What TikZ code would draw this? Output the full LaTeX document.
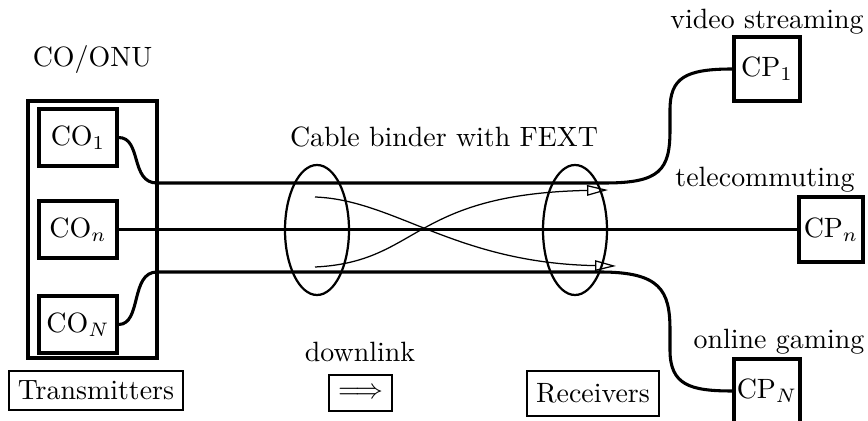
\documentclass[tikz,border=0pt]{standalone}
\usetikzlibrary{shapes.geometric,arrows.meta}
\newcommand{\pxu}{0.3584pt}
\begin{document}
\begin{tikzpicture}[x=0.3584pt,y=-0.3584pt,
  box/.style={draw,line width=1.1pt,inner sep=0pt},
  wire/.style={line width=1.1pt},
  lbl/.style={inner sep=0pt},
  tag/.style={draw,line width=0.4pt,inner sep=0pt},
  xt/.style={line width=0.45pt,-{Triangle[open,length=7.5pt,width=3.8pt]}},
  binder/.style={draw,ellipse,line width=0.8pt,inner sep=0pt,minimum width={64*\pxu},minimum height={130*\pxu}}
]
\clip (0,0) rectangle (868,421);
% transmitter side
\node[box, minimum width={129*\pxu}, minimum height={257*\pxu}] (onu) at (92.5,229.5) {};
\node[box, minimum width={78*\pxu}, minimum height={57*\pxu}] (co1) at (78,137.5) {CO$_1$};
\node[box, minimum width={78*\pxu}, minimum height={57*\pxu}] (con) at (78,229.5) {CO$_n$};
\node[box, minimum width={78*\pxu}, minimum height={57*\pxu}] (coN) at (78,324.5) {CO$_N$};
\node[lbl] (onulbl) at (92.5,60) {CO/ONU};
% receiver side
\node[box, minimum width={66*\pxu}, minimum height={64*\pxu}] (cp1) at (767,69) {CP$_1$};
\node[box, minimum width={64*\pxu}, minimum height={65*\pxu}] (cpn) at (831,229.5) {CP$_n$};
\node[box, minimum width={66*\pxu}, minimum height={64*\pxu}] (cpN) at (767,391) {CP$_N$};
\node[lbl] (vs) at (767,22) {video streaming};
\node[lbl] (tc) at (765,180) {telecommuting};
\node[lbl] (og) at (779,342) {online gaming};
% binder
\node[binder] (e1) at (317,230) {};
\node[binder] (e2) at (575,230) {};
\node[lbl] (cb) at (444,137) {Cable binder with FEXT};
% wires
\draw[wire] (co1.east) .. controls (142,137.5) and (130,183) .. (157,183) -- (605,183)
  .. controls (660,183) and (670,170) .. (670,130) -- (670,110)
  .. controls (670,78) and (685,69) .. (cp1.west);
\draw[wire] (con.east) -- (cpn.west);
\draw[wire] (coN.east) .. controls (142,324.5) and (130,272) .. (157,272) -- (600,272)
  .. controls (660,272) and (670,290) .. (670,330) -- (670,350)
  .. controls (670,385) and (690,391) .. (cpN.west);
% crosstalk
\coordinate (a1s) at (315,197);
\coordinate (a1e) at (616,266);
\coordinate (a2s) at (315,267);
\coordinate (a2e) at (608,190);
\draw[xt] (a1s) .. controls (395,200) and (455,263) .. (a1e);
\draw[xt] (a2s) .. controls (420,262) and (410,194) .. (a2e);
% bottom labels
\node[tag, minimum width={174*\pxu}, minimum height={39*\pxu}] (tx) at (96,390.5) {Transmitters};
\node[lbl] (dltxt) at (360,352) {downlink};
\node[tag, minimum width={63*\pxu}, minimum height={36*\pxu}] (dl) at (360.5,393) {$\Longrightarrow$};
\node[tag, minimum width={132*\pxu}, minimum height={45*\pxu}] (rx) at (593,393.5) {Receivers};
\end{tikzpicture}
\end{document}
